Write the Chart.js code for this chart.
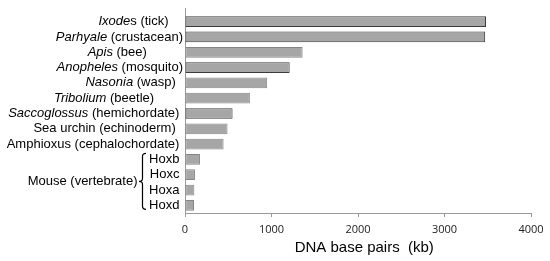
<!DOCTYPE html>
<html><head><meta charset="utf-8">
<script src="https://cdn.jsdelivr.net/npm/chart.js@4"></script>
<style>html,body{margin:0;padding:0;background:#fff}</style>
</head><body>
<canvas id="c" width="550" height="261"></canvas>
<script>
// ---- data ----
const categories = [
  'Ixodes (tick)    ',
  'Parhyale (crustacean)',
  'Apis (bee)          ',
  'Anopheles (mosquito)',
  'Nasonia (wasp)  ',
  'Tribolium (beetle)        ',
  'Saccoglossus (hemichordate) ',
  'Sea urchin (echinoderm)  ',
  'Amphioxus (cephalochordate) ',
  'Hoxb ', 'Hoxc ', 'Hoxa ', 'Hoxd '
];
const italicParts = ['Ixode', 'Parhyale', 'Apis', 'Anopheles', 'Nasonia', 'Tribolium', 'Saccoglossus', '', '', '', '', '', ''];
const clusterSizesKb = [3480, 3470, 1360, 1210, 950, 750, 550, 492, 446, 173, 115, 108, 104];
const darkOutlined = ['Ixode', 'Parhyale', 'Anopheles', 'Saccoglossus'];
const groupLabel = 'Mouse (vertebrate)';
const groupFirst = 9, groupLast = 12;
const xTickValues = [0, 1000, 2000, 3000, 4000];
const xTitle = '   DNA base pairs  (kb)';

// ---- styles ----
const axisColor = '#999999';
const labelFont = '13px "Liberation Sans", Arial, sans-serif';
const labelFontItalic = 'italic 13px "Liberation Sans", Arial, sans-serif';

const labelPlugin = {
  id: 'mixedLabels',
  afterDraw(chart) {
    const {ctx, chartArea: a, scales: {y}} = chart;
    ctx.save();
    ctx.strokeStyle = axisColor; ctx.lineWidth = 1;
    ctx.beginPath(); ctx.moveTo(a.left + 0.5, a.top - 6); ctx.lineTo(a.left + 0.5, a.top); ctx.stroke();

    ctx.fillStyle = '#000';
    ctx.textBaseline = 'middle';
    ctx.textAlign = 'left';
    const xr = a.left - 2;
    categories.forEach((lab, i) => {
      const yp = y.getPixelForValue(i);
      const it = italicParts[i];
      const rest = lab.slice(it.length);
      ctx.font = labelFont;
      const wr = ctx.measureText(rest).width;
      ctx.fillText(rest, xr - wr, yp);
      if (it) {
        ctx.font = labelFontItalic;
        const wi = ctx.measureText(it).width;
        ctx.fillText(it, xr - wr - wi, yp);
      }
    });

    const top = y.getPixelForValue(groupFirst) - 6;
    const bot = y.getPixelForValue(groupLast) + 4;
    const mid = (top + bot) / 2;
    const xv = a.left - 42.5, xh = a.left - 39, xp = a.left - 46;
    ctx.strokeStyle = '#000'; ctx.lineWidth = 1.2;
    ctx.beginPath();
    ctx.moveTo(xh, top);
    ctx.quadraticCurveTo(xv, top, xv, top + 3);
    ctx.lineTo(xv, mid - 3);
    ctx.quadraticCurveTo(xv, mid, xp, mid);
    ctx.quadraticCurveTo(xv, mid, xv, mid + 3);
    ctx.lineTo(xv, bot - 3);
    ctx.quadraticCurveTo(xv, bot, xh, bot);
    ctx.stroke();

    ctx.font = labelFont;
    ctx.textAlign = 'right';
    ctx.fillText(groupLabel, xp - 1.5, mid);
    ctx.restore();
  }
};

new Chart(document.getElementById('c'), {
  type: 'bar',
  data: {
    labels: categories,
    datasets: [{
      data: clusterSizesKb,
      backgroundColor: '#a6a6a6',
      borderColor: c => darkOutlined.includes(italicParts[c.dataIndex]) ? '#3a3a3a' : '#858585',
      borderWidth: 1,
      borderSkipped: false,
      barPercentage: 0.7,
      categoryPercentage: 1
    }]
  },
  options: {
    indexAxis: 'y',
    responsive: false,
    animation: false,
    devicePixelRatio: 1,
    layout: {padding: {top: 14, right: 19, bottom: 0, left: 0}},
    plugins: {legend: {display: false}, tooltip: {enabled: false}},
    scales: {
      x: {
        type: 'linear',
        min: xTickValues[0],
        max: xTickValues[xTickValues.length - 1],
        afterBuildTicks: s => { s.ticks = xTickValues.map(v => ({value: v})); },
        ticks: {font: {family: '"Open Sans", sans-serif', size: 11}, color: '#222', padding: 6, maxRotation: 0,
                callback: v => String(v)},
        grid: {drawOnChartArea: false, drawTicks: true, tickLength: 4, color: axisColor},
        border: {color: axisColor},
        title: {display: true, text: xTitle, color: '#000',
                font: {family: '"Liberation Sans", Arial, sans-serif', size: 15},
                padding: {top: 2, bottom: 4}},
        afterFit: s => { s.height = 48; }
      },
      y: {
        ticks: {display: false},
        grid: {display: false},
        border: {color: axisColor},
        afterFit: s => { s.width = 185; }
      }
    }
  },
  plugins: [labelPlugin]
});
</script>
</body></html>
